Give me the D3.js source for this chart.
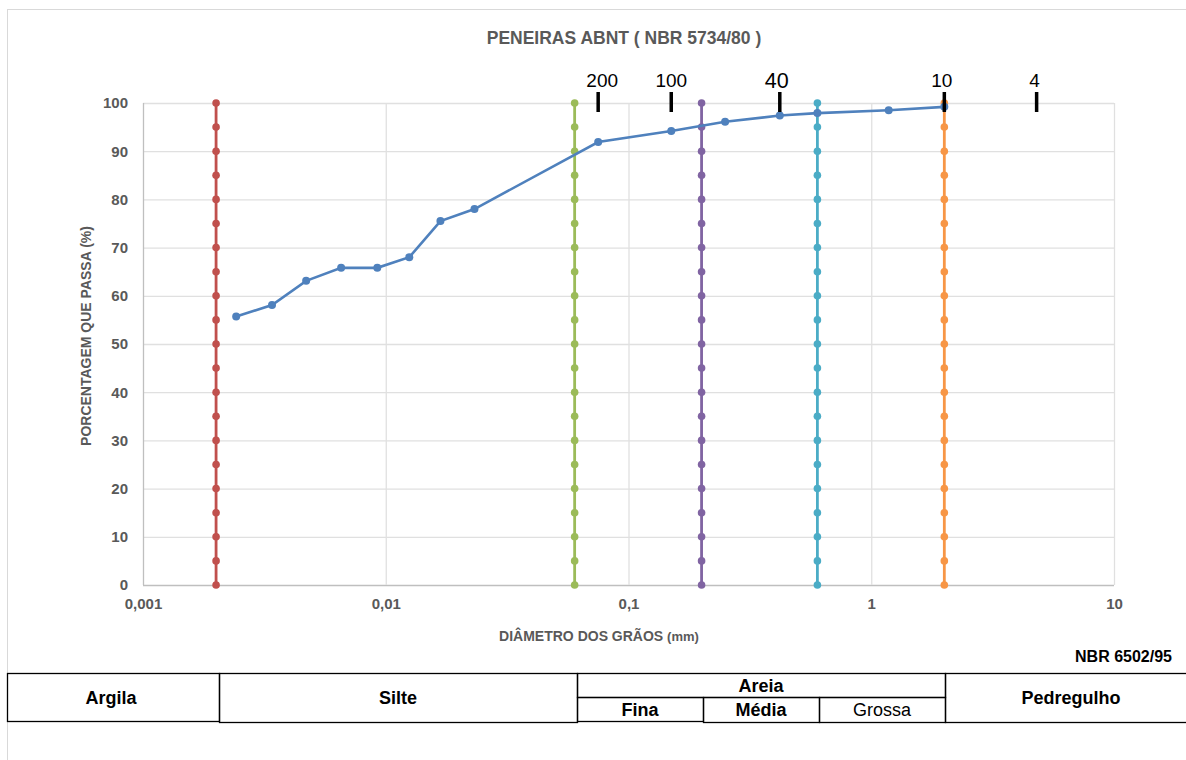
<!DOCTYPE html>
<html>
<head>
<meta charset="utf-8">
<script src="https://cdn.jsdelivr.net/npm/d3@7"></script>
<style>
  body { margin: 0; background: #fff; }
  text { font-family: "Liberation Sans", Arial, sans-serif; }
</style>
</head>
<body>
<svg id="canvas" width="1186" height="760"></svg>
<script>
// granulometric curve data (diameter mm, % passing)
var diameters = [0.00242, 0.0034, 0.0047, 0.00655, 0.00923, 0.0125, 0.0168, 0.0232,
                 0.075, 0.15, 0.25, 0.42, 0.6, 1.18, 2.0];
var passing = [55.7, 58.1, 63.1, 65.8, 65.8, 68.0, 75.5, 78.0,
               91.9, 94.2, 96.1, 97.4, 97.9, 98.5, 99.2];

// NBR 6502/95 class limits (mm) drawn as vertical series
var limits = [0.002, 0.06, 0.2, 0.6, 2.0];
var limitColors = ['#C0504D', '#9BBB59', '#8064A2', '#4BACC6', '#F79646'];
var limitLevels = d3.range(0, 101, 5);

// ABNT sieves
var sieveNames = ['200', '100', '40', '10', '4'];
var sieveSizes = [0.075, 0.15, 0.42, 2.0, 4.8];

var xTicks = [0.001, 0.01, 0.1, 1, 10];
var xTickLabels = ['0,001', '0,01', '0,1', '1', '10'];
var yTicks = d3.range(0, 101, 10);

var canvas = d3.select('#canvas');
var margin = { left: 143, right: 1114, top: 103, bottom: 585 };
var font = '"Liberation Sans", Arial, sans-serif';

// outer frame
canvas.append('rect')
  .attr('x', 7.5).attr('y', 9.5)
  .attr('width', 1200).attr('height', 800)
  .style('fill', 'none').style('stroke', '#d9d9d9').style('stroke-width', 1);

var xScale = d3.scaleLog().domain([0.001, 10]).range([margin.left, margin.right]);
var yScale = d3.scaleLinear().domain([0, 100]).range([margin.bottom, margin.top]);

// gridlines
canvas.append('g').selectAll('line').data(yTicks).enter().append('line')
  .attr('x1', margin.left).attr('x2', margin.right)
  .attr('y1', function(d) { return yScale(d) + 0.5; })
  .attr('y2', function(d) { return yScale(d) + 0.5; })
  .style('stroke', function(d) { return d === 0 ? '#bfbfbf' : '#e0e0e0'; })
  .style('stroke-width', 1.3);

canvas.append('g').selectAll('line').data(xTicks).enter().append('line')
  .attr('x1', function(d) { return xScale(d) + 0.5; })
  .attr('x2', function(d) { return xScale(d) + 0.5; })
  .attr('y1', margin.top).attr('y2', margin.bottom)
  .style('stroke', function(d) { return d === 0.001 ? '#bfbfbf' : '#e0e0e0'; })
  .style('stroke-width', 1.3);

// axes (labels only)
var xAxis = d3.axisBottom(xScale).tickValues(xTicks)
  .tickFormat(function(d, i) { return xTickLabels[i]; }).tickSize(0).tickPadding(13);
var gx = canvas.append('g').attr('transform', 'translate(0,' + margin.bottom + ')').call(xAxis);
gx.select('.domain').remove();
gx.selectAll('text').style('font-size', '15px').style('font-weight', 'bold')
  .style('fill', '#595959').style('font-family', font);

var yAxis = d3.axisLeft(yScale).tickValues(yTicks).tickSize(0).tickPadding(15);
var gy = canvas.append('g').attr('transform', 'translate(' + margin.left + ',0)').call(yAxis);
gy.select('.domain').remove();
gy.selectAll('text').style('font-size', '15px').style('font-weight', 'bold')
  .style('fill', '#595959').style('font-family', font);

// limit series
limits.forEach(function(lim, i) {
  var pts = limitLevels.map(function(v) { return { x: lim, y: v }; });
  var line = d3.line().x(function(d) { return xScale(d.x); }).y(function(d) { return yScale(d.y); });
  canvas.append('path').datum(pts).attr('d', line)
    .style('fill', 'none').style('stroke', limitColors[i]).style('stroke-width', 2.8);
  canvas.append('g').selectAll('circle').data(pts).enter().append('circle')
    .attr('cx', function(d) { return xScale(d.x); })
    .attr('cy', function(d) { return yScale(d.y); })
    .attr('r', 3.8).style('fill', limitColors[i]);
});

// granulometric curve
var curve = diameters.map(function(d, i) { return { x: d, y: passing[i] }; });
var curveLine = d3.line().x(function(d) { return xScale(d.x); }).y(function(d) { return yScale(d.y); });
canvas.append('path').datum(curve).attr('d', curveLine)
  .style('fill', 'none').style('stroke', '#4F81BD').style('stroke-width', 2.6);
canvas.append('g').selectAll('circle').data(curve).enter().append('circle')
  .attr('cx', function(d) { return xScale(d.x); })
  .attr('cy', function(d) { return yScale(d.y); })
  .attr('r', 4).style('fill', '#4F81BD');

// sieve markers
var sieves = sieveNames.map(function(n, i) { return { name: n, size: sieveSizes[i] }; });
var labelShift = { '200': 4, '100': 0, '40': -3, '10': -2.5, '4': -2 };
canvas.append('g').selectAll('line').data(sieves).enter().append('line')
  .attr('x1', function(d) { return xScale(d.size); })
  .attr('x2', function(d) { return xScale(d.size); })
  .attr('y1', 92).attr('y2', 112)
  .style('stroke', '#000').style('stroke-width', 3.5);
canvas.append('g').selectAll('text').data(sieves).enter().append('text')
  .attr('x', function(d) { return xScale(d.size) + labelShift[d.name]; })
  .attr('y', function(d) { return d.name === '40' ? 88 : 87; })
  .attr('text-anchor', 'middle')
  .style('font-size', function(d) { return d.name === '40' ? '21.5px' : '19px'; })
  .style('fill', '#000')
  .text(function(d) { return d.name; });

// titles
canvas.append('text').attr('x', 624).attr('y', 44).attr('text-anchor', 'middle')
  .style('font-size', '17.5px').style('font-weight', 'bold').style('fill', '#595959')
  .text('PENEIRAS ABNT ( NBR 5734/80 )');

var xt = canvas.append('text').attr('x', 599).attr('y', 641).attr('text-anchor', 'middle')
  .style('font-size', '14px').style('font-weight', 'bold').style('fill', '#595959');
xt.append('tspan').text('DIÂMETRO DOS GRÃOS ');
xt.append('tspan').style('font-size', '13px').text('(mm)');

canvas.append('text').attr('transform', 'translate(91,336) rotate(-90)')
  .attr('text-anchor', 'middle')
  .style('font-size', '14px').style('font-weight', 'bold').style('fill', '#595959')
  .text('PORCENTAGEM QUE PASSA (%)');

canvas.append('text').attr('x', 1172).attr('y', 662).attr('text-anchor', 'end')
  .style('font-size', '16px').style('font-weight', 'bold').style('fill', '#000')
  .text('NBR 6502/95');

// classification table
var cells = [
  { x0: 7, x1: 219, y0: 673, y1: 721, label: 'Argila', bold: true },
  { x0: 219, x1: 577, y0: 673, y1: 722, label: 'Silte', bold: true },
  { x0: 577, x1: 945, y0: 673, y1: 697, label: 'Areia', bold: true },
  { x0: 577, x1: 703, y0: 697, y1: 721, label: 'Fina', bold: true },
  { x0: 703, x1: 819, y0: 697, y1: 722, label: 'Média', bold: true },
  { x0: 819, x1: 945, y0: 697, y1: 722, label: 'Grossa', bold: false },
  { x0: 945, x1: 1200, y0: 673, y1: 722, label: 'Pedregulho', bold: true }
];
var tbl = canvas.append('g');
tbl.selectAll('rect').data(cells).enter().append('rect')
  .attr('x', function(d) { return d.x0 + 0.5; })
  .attr('y', function(d) { return d.y0 + 0.5; })
  .attr('width', function(d) { return d.x1 - d.x0; })
  .attr('height', function(d) { return d.y1 - d.y0; })
  .style('fill', 'none').style('stroke', '#000').style('stroke-width', 1.3);
tbl.selectAll('text').data(cells).enter().append('text')
  .attr('x', function(d) {
    if (d.label === 'Pedregulho') return 1071;
    if (d.label === 'Argila') return 111;
    return (d.x0 + d.x1) / 2;
  })
  .attr('y', function(d) { return (d.y0 + d.y1) / 2 + 6.5; })
  .attr('text-anchor', 'middle')
  .style('font-size', '18px')
  .style('font-weight', function(d) { return d.bold ? 'bold' : 'normal'; })
  .style('fill', '#000')
  .text(function(d) { return d.label; });
</script>
</body>
</html>
